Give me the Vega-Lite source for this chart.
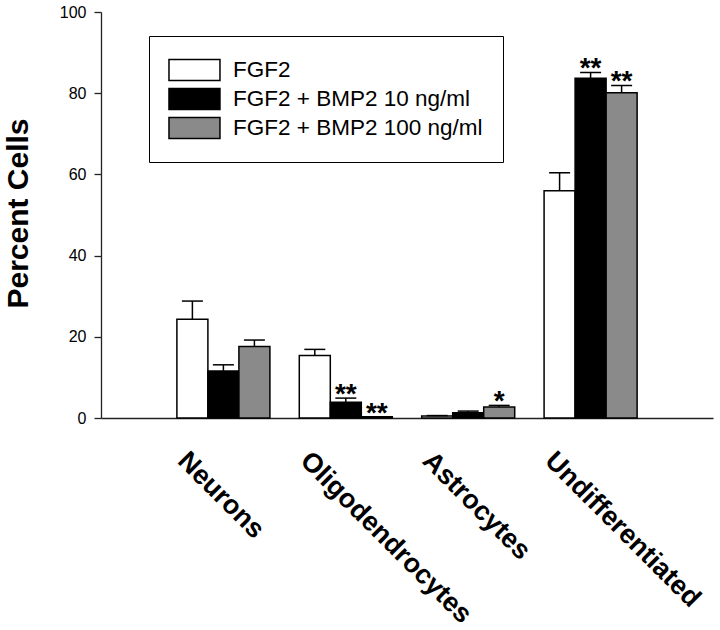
{
  "$schema": "https://vega.github.io/schema/vega-lite/v6.json",
  "width": 612,
  "height": 406,
  "autosize": "none",
  "padding": {"left": 101, "top": 12, "right": 7, "bottom": 212},
  "background": "white",
  "config": {
    "view": {"stroke": null},
    "axis": {"labelFont": "Liberation Sans", "titleFont": "Liberation Sans", "labelColor": "black", "titleColor": "black", "domainColor": "#222", "tickColor": "#222", "domainWidth": 1.3, "tickWidth": 1.3, "grid": false}
  },
  "data": {"values": [
    {"cell": "Neurons", "treatment": "FGF2", "mean": 24.3, "upper": 28.8, "sig": ""},
    {"cell": "Neurons", "treatment": "FGF2 + BMP2 10 ng/ml", "mean": 11.6, "upper": 13.1, "sig": ""},
    {"cell": "Neurons", "treatment": "FGF2 + BMP2 100 ng/ml", "mean": 17.6, "upper": 19.2, "sig": ""},
    {"cell": "Oligodendrocytes", "treatment": "FGF2", "mean": 15.4, "upper": 16.9, "sig": ""},
    {"cell": "Oligodendrocytes", "treatment": "FGF2 + BMP2 10 ng/ml", "mean": 3.9, "upper": 4.9, "sig": "**"},
    {"cell": "Oligodendrocytes", "treatment": "FGF2 + BMP2 100 ng/ml", "mean": 0.3, "upper": 0.3, "sig": "**"},
    {"cell": "Astrocytes", "treatment": "FGF2", "mean": 0.5, "upper": 0.6, "sig": ""},
    {"cell": "Astrocytes", "treatment": "FGF2 + BMP2 10 ng/ml", "mean": 1.3, "upper": 1.7, "sig": ""},
    {"cell": "Astrocytes", "treatment": "FGF2 + BMP2 100 ng/ml", "mean": 2.7, "upper": 3.1, "sig": "*"},
    {"cell": "Undifferentiated", "treatment": "FGF2", "mean": 56.0, "upper": 60.4, "sig": ""},
    {"cell": "Undifferentiated", "treatment": "FGF2 + BMP2 10 ng/ml", "mean": 83.7, "upper": 85.1, "sig": "**"},
    {"cell": "Undifferentiated", "treatment": "FGF2 + BMP2 100 ng/ml", "mean": 80.1, "upper": 81.9, "sig": "**"}
  ]},
  "encoding": {
    "x": {
      "field": "cell", "type": "nominal", "sort": null,
      "scale": {"paddingInner": 0.24, "paddingOuter": 0.62},
      "axis": {"title": null, "ticks": false, "labelAngle": 45, "labelAlign": "left", "labelBaseline": "top", "labelFontSize": 27, "labelFontWeight": "bold", "labelPadding": 29, "labelOffset": -32, "labelLimit": 400}
    },
    "xOffset": {"field": "treatment", "type": "nominal", "sort": null, "scale": {"paddingInner": 0, "paddingOuter": 0}}
  },
  "layer": [
    {
      "mark": {"type": "bar", "stroke": "black", "strokeWidth": 1.5},
      "encoding": {
        "y": {
          "field": "mean", "type": "quantitative",
          "scale": {"domain": [0, 100]},
          "axis": {"title": "Percent Cells", "titleFontSize": 30, "titleFontWeight": "bold", "titleAngle": -90, "titleX": -74, "titleY": 201, "titleAlign": "center", "titleBaseline": "alphabetic", "values": [0, 20, 40, 60, 80, 100], "tickSize": 7, "labelPadding": 8, "labelFontSize": 16}
        },
        "fill": {
          "field": "treatment", "type": "nominal", "sort": null,
          "scale": {"range": ["white", "black", "#8a8a8a"]},
          "legend": {"orient": "none", "legendX": 48, "legendY": 24, "title": null, "strokeColor": "black", "fillColor": "white", "padding": 20.5, "symbolType": "M-1.1,-0.82H2.9V0.82H-1.1Z", "symbolSize": 650, "symbolStrokeColor": "black", "symbolStrokeWidth": 1.5, "labelFont": "Liberation Sans", "labelFontSize": 22.5, "labelColor": "black", "labelOffset": 36.5, "rowPadding": 2, "labelLimit": 400}
        }
      }
    },
    {
      "transform": [{"filter": "datum.upper > datum.mean"}],
      "mark": {"type": "rule", "color": "black", "strokeWidth": 1.5},
      "encoding": {
        "y": {"field": "mean", "type": "quantitative"},
        "y2": {"field": "upper"}
      }
    },
    {
      "transform": [{"filter": "datum.upper > datum.mean"}],
      "mark": {"type": "tick", "color": "black", "thickness": 1.5, "size": 21, "opacity": 1},
      "encoding": {
        "y": {"field": "upper", "type": "quantitative"}
      }
    },
    {
      "mark": {"type": "text", "font": "Liberation Sans", "fontSize": 28, "fontWeight": "bold", "baseline": "alphabetic", "dy": 5, "color": "black"},
      "encoding": {
        "y": {"field": "upper", "type": "quantitative"},
        "text": {"field": "sig"}
      }
    }
  ]
}
